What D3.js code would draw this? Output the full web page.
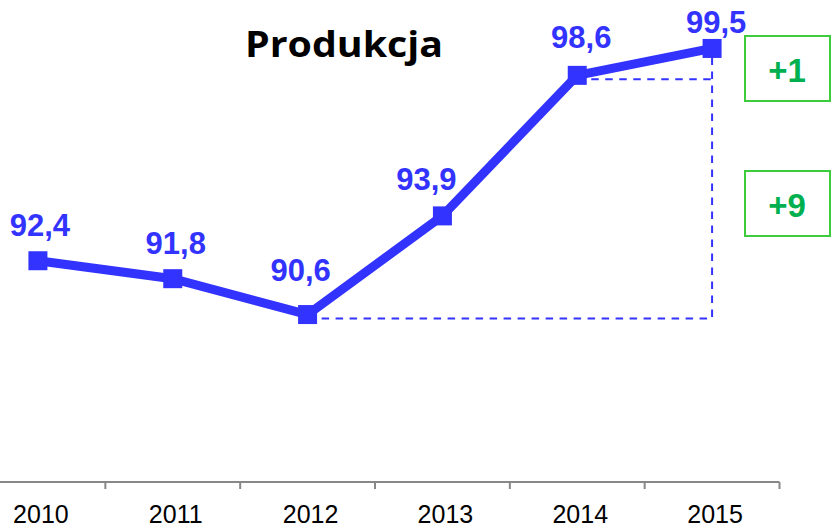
<!DOCTYPE html>
<html>
<head>
<meta charset="utf-8">
<script src="https://cdn.jsdelivr.net/npm/d3@7"></script>
<style>
  body { margin: 0; background: #fff; }
  svg { display: block; }
</style>
</head>
<body>
<div id="chart"></div>
<script>
// dane
const years = ["2010", "2011", "2012", "2013", "2014", "2015"];
const produkcja = [92.4, 91.8, 90.6, 93.9, 98.6, 99.5];
const zmiany = ["+1", "+9"];

// przesuniecia etykiet (recznie ustawione jak w oryginale)
const labelDx = [2, 3, -7, -16, 4, 4];
const labelDy = [-25, -25, -34, -26, -27, -27];

const width = 832, height = 527;
const blue = "#3333ff";

const svg = d3.select("#chart").append("svg")
  .attr("width", width)
  .attr("height", height);

const data = years.map((y, i) => ({ year: y, value: produkcja[i], i: i }));

const x = d3.scaleBand()
  .domain(years)
  .range([-29.5, 779.5]);

const y = d3.scaleLinear()
  .domain([85, 101])
  .range([482, 3.6]);

const cx = d => x(d.year) + x.bandwidth() / 2;

// os X
const axis = svg.append("g")
  .attr("transform", "translate(0,482)");

axis.append("line")
  .attr("x1", 0).attr("x2", x.range()[1])
  .attr("stroke", "#888").attr("stroke-width", 2);

axis.selectAll(".tick")
  .data(years)
  .enter().append("line")
  .attr("x1", d => x(d) + x.step())
  .attr("x2", d => x(d) + x.step())
  .attr("y1", 0).attr("y2", 7)
  .attr("stroke", "#888").attr("stroke-width", 2);

axis.selectAll(".lbl")
  .data(years)
  .enter().append("text")
  .attr("x", d => x(d) + x.bandwidth() / 2 + 3)
  .attr("y", 41)
  .attr("text-anchor", "middle")
  .attr("font-family", "'Liberation Sans', Arial, sans-serif")
  .attr("font-size", "25px")
  .attr("fill", "#000")
  .text(d => d);

// linie przerywane
const d2012 = data[2], d2014 = data[4], d2015 = data[5];
const dash = g => g.attr("stroke", blue).attr("stroke-width", 2).attr("stroke-dasharray", "7.5,6.5").attr("fill", "none");

svg.append("path")
  .attr("d", `M${cx(d2012)},${y(d2012.value) + 4}H${cx(d2015)}V${y(d2015.value)}`)
  .call(dash);
svg.append("line")
  .attr("x1", cx(d2014)).attr("x2", cx(d2015))
  .attr("y1", y(d2014.value) + 4).attr("y2", y(d2014.value) + 4)
  .call(dash);

// linia
svg.append("path")
  .datum(data)
  .attr("fill", "none")
  .attr("stroke", blue)
  .attr("stroke-width", 9)
  .attr("stroke-linejoin", "miter")
  .attr("d", d3.line().x(cx).y(d => y(d.value)));

svg.selectAll(".pt")
  .data(data)
  .enter().append("rect")
  .attr("x", d => cx(d) - 9.5)
  .attr("y", d => y(d.value) - 9.5)
  .attr("width", 19).attr("height", 19)
  .attr("fill", blue);

// etykiety wartosci
svg.selectAll(".val")
  .data(data)
  .enter().append("text")
  .attr("x", d => cx(d) + labelDx[d.i])
  .attr("y", d => Math.max(y(d.value) + labelDy[d.i], 33))
  .attr("text-anchor", "middle")
  .attr("font-family", "'Liberation Sans', Arial, sans-serif")
  .attr("font-weight", "bold")
  .attr("font-size", "31px")
  .attr("fill", blue)
  .text(d => d3.format(".1f")(d.value).replace(".", ","));

// tytul
svg.append("text")
  .attr("x", 344).attr("y", 57)
  .attr("text-anchor", "middle")
  .attr("font-family", "'Open Sans', sans-serif")
  .attr("font-weight", "bold")
  .attr("font-size", "36px")
  .attr("textLength", 198)
  .attr("lengthAdjust", "spacingAndGlyphs")
  .text("Produkcja");

// ramki ze zmianami
const boxes = svg.selectAll(".box")
  .data(zmiany)
  .enter().append("g")
  .attr("transform", (d, i) => `translate(745,${i === 0 ? 36 : 171})`);

boxes.append("rect")
  .attr("width", 85).attr("height", 65)
  .attr("fill", "#fff")
  .attr("stroke", "#3ccc3c").attr("stroke-width", 2);

boxes.append("text")
  .attr("x", 42).attr("y", 46)
  .attr("text-anchor", "middle")
  .attr("font-family", "'Liberation Sans', Arial, sans-serif")
  .attr("font-weight", "bold")
  .attr("font-size", "33px")
  .attr("fill", "#00b050")
  .text(d => d);
</script>
</body>
</html>
